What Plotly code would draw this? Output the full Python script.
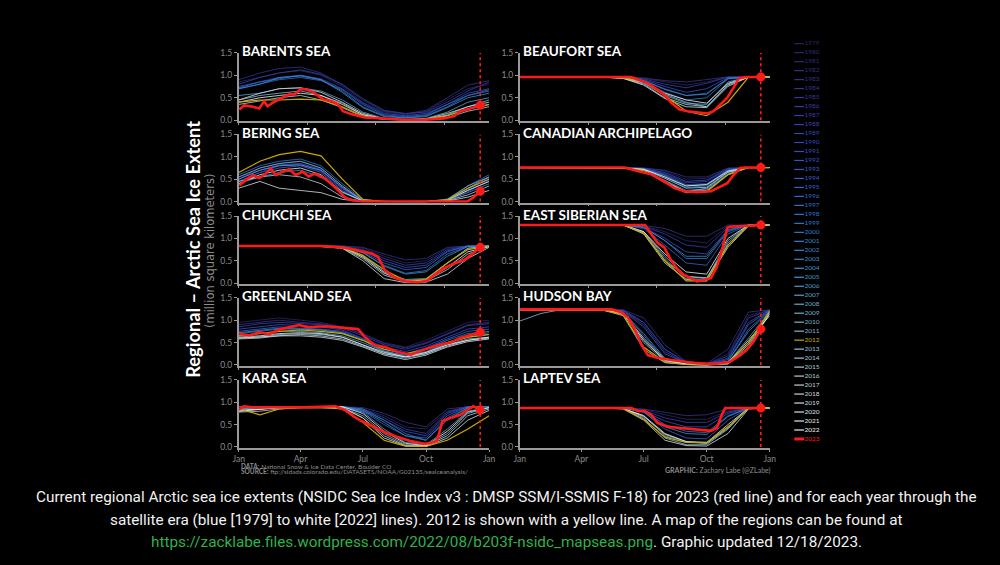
import plotly.graph_objects as go

# day-of-year for the monthly readings of each past year
MONTH_DAY = [0, 31, 59, 90, 120, 151, 181, 212, 243, 273, 304, 334, 365]
YEARS = list(range(1979, 2024))

# million km^2 (a subset of years per region)
BARENTS = {
    1979: [0.85, 0.95, 1.05, 1.10, 1.00, 0.75, 0.40, 0.18, 0.12, 0.20, 0.45, 0.70, 0.80],
    1983: [0.90, 1.05, 1.15, 1.18, 1.05, 0.78, 0.45, 0.20, 0.14, 0.22, 0.50, 0.78, 0.88],
    1987: [0.80, 0.95, 1.05, 1.12, 1.02, 0.80, 0.48, 0.22, 0.15, 0.18, 0.40, 0.65, 0.85],
    1991: [0.75, 0.85, 0.95, 1.00, 0.92, 0.70, 0.38, 0.15, 0.10, 0.15, 0.35, 0.60, 0.70],
    1995: [0.70, 0.80, 0.90, 0.95, 0.88, 0.68, 0.35, 0.12, 0.08, 0.12, 0.35, 0.55, 0.68],
    1999: [0.72, 0.85, 0.92, 1.00, 0.90, 0.65, 0.30, 0.10, 0.06, 0.10, 0.30, 0.55, 0.65],
    2003: [0.70, 0.80, 0.95, 0.98, 0.90, 0.62, 0.28, 0.08, 0.05, 0.08, 0.28, 0.50, 0.60],
    2007: [0.55, 0.60, 0.70, 0.72, 0.65, 0.45, 0.18, 0.04, 0.02, 0.04, 0.18, 0.40, 0.50],
    2011: [0.45, 0.55, 0.60, 0.65, 0.55, 0.38, 0.12, 0.03, 0.01, 0.02, 0.12, 0.30, 0.45],
    2016: [0.35, 0.42, 0.50, 0.55, 0.45, 0.28, 0.08, 0.02, 0.01, 0.02, 0.06, 0.20, 0.30],
    2019: [0.45, 0.60, 0.70, 0.72, 0.62, 0.40, 0.15, 0.03, 0.01, 0.03, 0.15, 0.30, 0.40],
    2022: [0.40, 0.50, 0.55, 0.60, 0.55, 0.35, 0.12, 0.03, 0.01, 0.02, 0.10, 0.25, 0.35],
    2012: [0.40, 0.45, 0.45, 0.47, 0.45, 0.30, 0.10, 0.02, 0.01, 0.02, 0.10, 0.25, 0.35],
}
BERING = {
    1979: [0.55, 0.70, 0.80, 0.85, 0.70, 0.30, 0.02, 0, 0, 0, 0.03, 0.25, 0.50],
    1983: [0.50, 0.75, 0.85, 0.90, 0.75, 0.35, 0.03, 0, 0, 0, 0.05, 0.30, 0.55],
    1987: [0.45, 0.65, 0.80, 0.82, 0.68, 0.28, 0.02, 0, 0, 0, 0.04, 0.22, 0.48],
    1991: [0.50, 0.70, 0.82, 0.85, 0.72, 0.30, 0.02, 0, 0, 0, 0.05, 0.28, 0.52],
    1995: [0.45, 0.65, 0.75, 0.80, 0.65, 0.25, 0.01, 0, 0, 0, 0.03, 0.25, 0.45],
    1999: [0.60, 0.80, 0.90, 0.95, 0.80, 0.40, 0.04, 0, 0, 0, 0.06, 0.35, 0.60],
    2003: [0.40, 0.55, 0.65, 0.70, 0.55, 0.20, 0.01, 0, 0, 0, 0.02, 0.20, 0.40],
    2007: [0.50, 0.70, 0.80, 0.82, 0.70, 0.32, 0.02, 0, 0, 0, 0.03, 0.30, 0.55],
    2011: [0.55, 0.75, 0.85, 0.90, 0.75, 0.35, 0.02, 0, 0, 0, 0.04, 0.35, 0.55],
    2016: [0.45, 0.55, 0.60, 0.55, 0.40, 0.10, 0.00, 0, 0, 0, 0.02, 0.15, 0.35],
    2019: [0.30, 0.45, 0.30, 0.25, 0.20, 0.05, 0.00, 0, 0, 0, 0.01, 0.10, 0.25],
    2022: [0.40, 0.60, 0.70, 0.75, 0.60, 0.22, 0.01, 0, 0, 0, 0.03, 0.25, 0.45],
    2012: [0.65, 0.90, 1.05, 1.12, 1.02, 0.50, 0.05, 0, 0, 0, 0.04, 0.30, 0.50],
}
CHUKCHI = {
    1979: [0.83, 0.83, 0.83, 0.83, 0.83, 0.83, 0.78, 0.60, 0.45, 0.50, 0.78, 0.83, 0.83],
    1983: [0.83, 0.83, 0.83, 0.83, 0.83, 0.83, 0.80, 0.65, 0.52, 0.55, 0.80, 0.83, 0.83],
    1987: [0.83, 0.83, 0.83, 0.83, 0.83, 0.82, 0.75, 0.55, 0.40, 0.45, 0.75, 0.83, 0.83],
    1991: [0.83, 0.83, 0.83, 0.83, 0.83, 0.82, 0.72, 0.50, 0.35, 0.40, 0.72, 0.83, 0.83],
    1995: [0.83, 0.83, 0.83, 0.83, 0.83, 0.82, 0.70, 0.45, 0.30, 0.35, 0.70, 0.83, 0.83],
    1999: [0.83, 0.83, 0.83, 0.83, 0.83, 0.81, 0.68, 0.40, 0.22, 0.28, 0.65, 0.82, 0.83],
    2003: [0.83, 0.83, 0.83, 0.83, 0.83, 0.81, 0.68, 0.38, 0.20, 0.25, 0.60, 0.82, 0.83],
    2007: [0.83, 0.83, 0.83, 0.83, 0.83, 0.80, 0.62, 0.25, 0.05, 0.08, 0.45, 0.78, 0.83],
    2011: [0.83, 0.83, 0.83, 0.83, 0.83, 0.80, 0.60, 0.25, 0.08, 0.10, 0.45, 0.78, 0.83],
    2016: [0.83, 0.83, 0.83, 0.83, 0.82, 0.78, 0.55, 0.18, 0.03, 0.05, 0.30, 0.65, 0.82],
    2019: [0.83, 0.83, 0.83, 0.83, 0.82, 0.78, 0.50, 0.10, 0.01, 0.02, 0.20, 0.55, 0.80],
    2022: [0.83, 0.83, 0.83, 0.83, 0.83, 0.80, 0.58, 0.22, 0.05, 0.06, 0.35, 0.70, 0.82],
    2012: [0.83, 0.83, 0.83, 0.83, 0.83, 0.80, 0.62, 0.30, 0.05, 0.08, 0.45, 0.75, 0.83],
}
GREENLAND = {
    1979: [0.95, 1.00, 1.05, 1.00, 0.95, 0.85, 0.70, 0.50, 0.40, 0.55, 0.75, 0.95, 1.00],
    1983: [0.90, 0.95, 1.00, 0.95, 0.92, 0.85, 0.68, 0.48, 0.38, 0.50, 0.70, 0.90, 0.95],
    1987: [0.85, 0.92, 0.95, 0.92, 0.90, 0.82, 0.65, 0.45, 0.35, 0.48, 0.68, 0.88, 0.92],
    1991: [0.80, 0.85, 0.90, 0.88, 0.85, 0.78, 0.60, 0.40, 0.30, 0.42, 0.62, 0.80, 0.85],
    1995: [0.75, 0.80, 0.85, 0.82, 0.80, 0.75, 0.58, 0.35, 0.25, 0.38, 0.58, 0.75, 0.80],
    1999: [0.70, 0.75, 0.80, 0.80, 0.78, 0.72, 0.55, 0.30, 0.22, 0.35, 0.55, 0.70, 0.75],
    2003: [0.72, 0.78, 0.82, 0.80, 0.78, 0.72, 0.55, 0.32, 0.20, 0.30, 0.50, 0.65, 0.72],
    2007: [0.65, 0.70, 0.75, 0.75, 0.72, 0.65, 0.50, 0.30, 0.18, 0.28, 0.48, 0.62, 0.68],
    2011: [0.60, 0.62, 0.68, 0.70, 0.68, 0.62, 0.45, 0.25, 0.15, 0.25, 0.45, 0.58, 0.62],
    2016: [0.58, 0.60, 0.65, 0.68, 0.65, 0.58, 0.42, 0.25, 0.18, 0.25, 0.42, 0.55, 0.60],
    2019: [0.60, 0.62, 0.65, 0.65, 0.62, 0.55, 0.40, 0.22, 0.12, 0.22, 0.40, 0.52, 0.58],
    2022: [0.62, 0.65, 0.70, 0.72, 0.70, 0.62, 0.45, 0.28, 0.18, 0.28, 0.45, 0.55, 0.62],
    2012: [0.65, 0.70, 0.75, 0.78, 0.75, 0.70, 0.55, 0.35, 0.25, 0.35, 0.50, 0.62, 0.68],
}
KARA = {
    1979: [0.90, 0.90, 0.90, 0.90, 0.90, 0.90, 0.85, 0.70, 0.45, 0.40, 0.80, 0.90, 0.90],
    1983: [0.88, 0.90, 0.90, 0.90, 0.90, 0.90, 0.88, 0.75, 0.55, 0.45, 0.85, 0.90, 0.90],
    1987: [0.85, 0.88, 0.90, 0.90, 0.90, 0.90, 0.85, 0.65, 0.40, 0.30, 0.78, 0.90, 0.90],
    1991: [0.90, 0.90, 0.90, 0.90, 0.90, 0.90, 0.82, 0.60, 0.35, 0.25, 0.75, 0.90, 0.90],
    1995: [0.82, 0.85, 0.90, 0.90, 0.90, 0.90, 0.80, 0.50, 0.25, 0.20, 0.70, 0.90, 0.90],
    1999: [0.90, 0.90, 0.90, 0.90, 0.90, 0.90, 0.85, 0.60, 0.30, 0.15, 0.65, 0.88, 0.90],
    2003: [0.85, 0.88, 0.88, 0.90, 0.90, 0.90, 0.82, 0.55, 0.25, 0.15, 0.60, 0.88, 0.90],
    2007: [0.85, 0.85, 0.88, 0.88, 0.90, 0.90, 0.78, 0.40, 0.10, 0.05, 0.40, 0.80, 0.88],
    2011: [0.80, 0.85, 0.88, 0.90, 0.90, 0.88, 0.70, 0.30, 0.05, 0.02, 0.30, 0.75, 0.88],
    2016: [0.78, 0.80, 0.85, 0.88, 0.88, 0.88, 0.65, 0.25, 0.03, 0.02, 0.25, 0.70, 0.85],
    2019: [0.82, 0.85, 0.88, 0.88, 0.88, 0.88, 0.65, 0.20, 0.02, 0.01, 0.20, 0.60, 0.82],
    2022: [0.80, 0.85, 0.88, 0.90, 0.90, 0.90, 0.75, 0.35, 0.08, 0.03, 0.35, 0.78, 0.88],
    2012: [0.85, 0.72, 0.85, 0.88, 0.88, 0.85, 0.55, 0.15, 0.02, 0.01, 0.15, 0.40, 0.70],
}
BEAUFORT = {
    1979: [0.96, 0.96, 0.96, 0.96, 0.96, 0.96, 0.93, 0.85, 0.78, 0.85, 0.96, 0.96, 0.96],
    1983: [0.96, 0.96, 0.96, 0.96, 0.96, 0.96, 0.94, 0.88, 0.85, 0.90, 0.96, 0.96, 0.96],
    1987: [0.96, 0.96, 0.96, 0.96, 0.96, 0.96, 0.92, 0.80, 0.72, 0.82, 0.96, 0.96, 0.96],
    1991: [0.96, 0.96, 0.96, 0.96, 0.96, 0.95, 0.90, 0.75, 0.62, 0.70, 0.95, 0.96, 0.96],
    1995: [0.96, 0.96, 0.96, 0.96, 0.96, 0.95, 0.88, 0.70, 0.55, 0.60, 0.93, 0.96, 0.96],
    1999: [0.96, 0.96, 0.96, 0.96, 0.96, 0.94, 0.85, 0.62, 0.45, 0.50, 0.92, 0.96, 0.96],
    2003: [0.96, 0.96, 0.96, 0.96, 0.96, 0.95, 0.88, 0.68, 0.55, 0.58, 0.93, 0.96, 0.96],
    2007: [0.96, 0.96, 0.96, 0.96, 0.96, 0.94, 0.82, 0.55, 0.38, 0.35, 0.85, 0.96, 0.96],
    2011: [0.96, 0.96, 0.96, 0.96, 0.96, 0.94, 0.85, 0.58, 0.40, 0.30, 0.80, 0.96, 0.96],
    2016: [0.96, 0.96, 0.96, 0.96, 0.96, 0.93, 0.80, 0.50, 0.35, 0.30, 0.78, 0.96, 0.96],
    2019: [0.96, 0.96, 0.96, 0.96, 0.96, 0.93, 0.78, 0.48, 0.30, 0.28, 0.75, 0.96, 0.96],
    2022: [0.96, 0.96, 0.96, 0.96, 0.96, 0.94, 0.84, 0.60, 0.45, 0.38, 0.82, 0.96, 0.96],
    2012: [0.96, 0.96, 0.96, 0.96, 0.96, 0.94, 0.85, 0.55, 0.20, 0.10, 0.40, 0.96, 0.96],
}
CANADIAN = {
    1979: [0.76, 0.76, 0.76, 0.76, 0.76, 0.76, 0.75, 0.68, 0.50, 0.52, 0.74, 0.76, 0.76],
    1983: [0.76, 0.76, 0.76, 0.76, 0.76, 0.76, 0.75, 0.70, 0.55, 0.55, 0.75, 0.76, 0.76],
    1987: [0.76, 0.76, 0.76, 0.76, 0.76, 0.76, 0.74, 0.62, 0.42, 0.45, 0.72, 0.76, 0.76],
    1991: [0.76, 0.76, 0.76, 0.76, 0.76, 0.76, 0.74, 0.65, 0.45, 0.48, 0.73, 0.76, 0.76],
    1995: [0.76, 0.76, 0.76, 0.76, 0.76, 0.75, 0.73, 0.60, 0.38, 0.40, 0.70, 0.76, 0.76],
    1999: [0.76, 0.76, 0.76, 0.76, 0.76, 0.75, 0.72, 0.55, 0.32, 0.35, 0.68, 0.76, 0.76],
    2003: [0.76, 0.76, 0.76, 0.76, 0.76, 0.76, 0.73, 0.58, 0.35, 0.38, 0.70, 0.76, 0.76],
    2007: [0.76, 0.76, 0.76, 0.76, 0.76, 0.75, 0.70, 0.48, 0.25, 0.28, 0.62, 0.76, 0.76],
    2011: [0.76, 0.76, 0.76, 0.76, 0.76, 0.75, 0.70, 0.45, 0.22, 0.30, 0.65, 0.76, 0.76],
    2016: [0.76, 0.76, 0.76, 0.76, 0.76, 0.75, 0.72, 0.52, 0.30, 0.32, 0.66, 0.76, 0.76],
    2019: [0.76, 0.76, 0.76, 0.76, 0.76, 0.74, 0.70, 0.45, 0.22, 0.25, 0.60, 0.76, 0.76],
    2022: [0.76, 0.76, 0.76, 0.76, 0.76, 0.75, 0.72, 0.55, 0.35, 0.38, 0.68, 0.76, 0.76],
    2012: [0.76, 0.76, 0.76, 0.76, 0.76, 0.75, 0.70, 0.42, 0.20, 0.22, 0.60, 0.76, 0.76],
}
EAST_SIBERIAN = {
    1979: [1.30, 1.30, 1.30, 1.30, 1.30, 1.30, 1.28, 1.15, 0.95, 0.90, 1.28, 1.30, 1.30],
    1983: [1.30, 1.30, 1.30, 1.30, 1.30, 1.30, 1.29, 1.22, 1.05, 1.05, 1.30, 1.30, 1.30],
    1987: [1.30, 1.30, 1.30, 1.30, 1.30, 1.30, 1.27, 1.10, 0.85, 0.80, 1.25, 1.30, 1.30],
    1991: [1.30, 1.30, 1.30, 1.30, 1.30, 1.30, 1.25, 1.00, 0.70, 0.65, 1.20, 1.30, 1.30],
    1995: [1.30, 1.30, 1.30, 1.30, 1.30, 1.30, 1.22, 0.85, 0.45, 0.40, 1.10, 1.30, 1.30],
    1999: [1.30, 1.30, 1.30, 1.30, 1.30, 1.30, 1.25, 0.95, 0.55, 0.55, 1.15, 1.30, 1.30],
    2003: [1.30, 1.30, 1.30, 1.30, 1.30, 1.30, 1.25, 0.95, 0.60, 0.60, 1.18, 1.30, 1.30],
    2007: [1.30, 1.30, 1.30, 1.30, 1.30, 1.30, 1.15, 0.55, 0.10, 0.08, 0.90, 1.30, 1.30],
    2011: [1.30, 1.30, 1.30, 1.30, 1.30, 1.30, 1.15, 0.60, 0.15, 0.10, 0.95, 1.30, 1.30],
    2016: [1.30, 1.30, 1.30, 1.30, 1.30, 1.30, 1.12, 0.50, 0.15, 0.12, 0.85, 1.28, 1.30],
    2019: [1.30, 1.30, 1.30, 1.30, 1.30, 1.30, 1.10, 0.45, 0.08, 0.05, 0.80, 1.28, 1.30],
    2022: [1.30, 1.30, 1.30, 1.30, 1.30, 1.30, 1.15, 0.65, 0.25, 0.20, 1.00, 1.30, 1.30],
    2012: [1.30, 1.30, 1.30, 1.30, 1.30, 1.30, 1.12, 0.50, 0.05, 0.05, 0.85, 1.30, 1.30],
}
HUDSON = {
    1979: [1.23, 1.23, 1.23, 1.23, 1.23, 1.22, 0.95, 0.35, 0.05, 0.02, 0.25, 1.10, 1.23],
    1983: [1.23, 1.23, 1.23, 1.23, 1.23, 1.23, 1.05, 0.45, 0.08, 0.03, 0.35, 1.18, 1.23],
    1987: [1.23, 1.23, 1.23, 1.23, 1.23, 1.22, 0.90, 0.30, 0.04, 0.02, 0.20, 1.05, 1.23],
    1991: [1.23, 1.23, 1.23, 1.23, 1.23, 1.22, 0.95, 0.35, 0.06, 0.02, 0.15, 0.95, 1.23],
    1995: [1.23, 1.23, 1.23, 1.23, 1.23, 1.20, 0.85, 0.25, 0.04, 0.01, 0.12, 0.90, 1.22],
    1999: [1.23, 1.23, 1.23, 1.23, 1.23, 1.18, 0.65, 0.12, 0.02, 0.01, 0.08, 0.80, 1.22],
    2003: [1.23, 1.23, 1.23, 1.23, 1.23, 1.18, 0.70, 0.15, 0.02, 0.01, 0.08, 0.75, 1.20],
    2007: [1.23, 1.23, 1.23, 1.23, 1.23, 1.15, 0.55, 0.10, 0.01, 0.00, 0.05, 0.60, 1.20],
    2011: [0.98, 1.15, 1.23, 1.23, 1.23, 1.15, 0.50, 0.08, 0.01, 0.00, 0.04, 0.50, 1.18],
    2016: [1.23, 1.23, 1.23, 1.23, 1.23, 1.10, 0.35, 0.05, 0.01, 0.00, 0.02, 0.40, 1.15],
    2019: [1.23, 1.23, 1.23, 1.23, 1.23, 1.15, 0.55, 0.10, 0.01, 0.00, 0.03, 0.45, 1.15],
    2022: [1.23, 1.23, 1.23, 1.23, 1.23, 1.15, 0.60, 0.12, 0.02, 0.01, 0.05, 0.55, 1.10],
    2012: [1.23, 1.23, 1.23, 1.23, 1.23, 1.12, 0.40, 0.06, 0.01, 0.00, 0.04, 0.50, 1.20],
}
LAPTEV = {
    1979: [0.87, 0.87, 0.87, 0.87, 0.87, 0.87, 0.84, 0.72, 0.62, 0.62, 0.80, 0.87, 0.87],
    1983: [0.87, 0.87, 0.87, 0.87, 0.87, 0.87, 0.85, 0.78, 0.70, 0.72, 0.85, 0.87, 0.87],
    1987: [0.87, 0.87, 0.87, 0.87, 0.87, 0.87, 0.82, 0.65, 0.55, 0.55, 0.78, 0.87, 0.87],
    1991: [0.87, 0.87, 0.87, 0.87, 0.87, 0.87, 0.80, 0.58, 0.45, 0.45, 0.75, 0.87, 0.87],
    1995: [0.87, 0.87, 0.87, 0.87, 0.87, 0.87, 0.78, 0.40, 0.20, 0.18, 0.60, 0.87, 0.87],
    1999: [0.87, 0.87, 0.87, 0.87, 0.87, 0.87, 0.80, 0.50, 0.35, 0.32, 0.70, 0.87, 0.87],
    2003: [0.87, 0.87, 0.87, 0.87, 0.87, 0.87, 0.78, 0.45, 0.30, 0.28, 0.68, 0.87, 0.87],
    2007: [0.87, 0.87, 0.87, 0.87, 0.87, 0.86, 0.70, 0.25, 0.10, 0.08, 0.45, 0.87, 0.87],
    2011: [0.87, 0.87, 0.87, 0.87, 0.87, 0.86, 0.65, 0.20, 0.05, 0.05, 0.40, 0.87, 0.87],
    2016: [0.87, 0.87, 0.87, 0.87, 0.87, 0.86, 0.68, 0.28, 0.12, 0.08, 0.42, 0.87, 0.87],
    2019: [0.87, 0.87, 0.87, 0.87, 0.87, 0.85, 0.60, 0.15, 0.03, 0.02, 0.30, 0.85, 0.87],
    2022: [0.87, 0.87, 0.87, 0.87, 0.87, 0.86, 0.70, 0.30, 0.12, 0.10, 0.50, 0.87, 0.87],
    2012: [0.87, 0.87, 0.87, 0.87, 0.87, 0.86, 0.62, 0.22, 0.10, 0.10, 0.45, 0.87, 0.87],
}

# 2023 (through Dec 18) read at finer spacing
RED_BARENTS_DAY = [1, 8, 21, 30, 37, 42, 50, 59, 69, 74, 81, 90, 97, 107, 117, 124, 136, 145, 152, 165,
                   184, 203, 222, 242, 270, 299, 314, 323, 333, 342, 352]
RED_BARENTS = [0.24, 0.33, 0.30, 0.26, 0.42, 0.31, 0.39, 0.46, 0.53, 0.58, 0.57, 0.69, 0.69, 0.64, 0.53,
               0.46, 0.42, 0.35, 0.20, 0.13, 0.06, 0.04, 0.02, 0.01, 0.01, 0.04, 0.09, 0.20, 0.24, 0.28, 0.33]
RED_BERING_DAY = [1, 11, 21, 30, 40, 47, 54, 64, 74, 83, 93, 102, 112, 119, 126, 136, 145, 155, 165, 180,
                  300, 333, 342, 352]
RED_BERING = [0.36, 0.49, 0.59, 0.52, 0.63, 0.74, 0.59, 0.67, 0.72, 0.59, 0.67, 0.56, 0.63, 0.56, 0.52,
              0.38, 0.25, 0.09, 0.03, 0.0, 0.0, 0.0, 0.09, 0.23]
RED_CHUKCHI_DAY = [0, 117, 140, 155, 174, 194, 203, 213, 227, 242, 261, 275, 285, 299, 314, 328, 338, 352]
RED_CHUKCHI = [0.83, 0.83, 0.81, 0.79, 0.73, 0.66, 0.59, 0.29, 0.13, 0.04, 0.02, 0.05, 0.18, 0.33, 0.44,
               0.51, 0.62, 0.80]
RED_GREENLAND_DAY = [1, 16, 30, 45, 59, 73, 88, 102, 117, 131, 146, 160, 174, 184, 198, 213, 232, 251, 261,
                     275, 290, 309, 323, 338, 352]
RED_GREENLAND = [0.69, 0.66, 0.73, 0.69, 0.79, 0.84, 0.89, 0.84, 0.86, 0.86, 0.84, 0.82, 0.80, 0.62, 0.44,
                 0.40, 0.29, 0.23, 0.29, 0.37, 0.44, 0.50, 0.60, 0.66, 0.73]
RED_KARA_DAY = [0, 7, 25, 49, 97, 141, 155, 167, 179, 194, 213, 232, 251, 270, 280, 289, 297, 309, 323, 333,
                342, 352]
RED_KARA = [0.83, 0.91, 0.88, 0.89, 0.89, 0.91, 0.83, 0.69, 0.58, 0.47, 0.33, 0.22, 0.13, 0.07, 0.09, 0.14,
            0.58, 0.65, 0.72, 0.83, 0.91, 0.83]
RED_BEAUFORT_DAY = [0, 163, 173, 187, 201, 211, 221, 233, 245, 259, 274, 283, 293, 303, 312, 320, 330, 352]
RED_BEAUFORT = [0.96, 0.96, 0.90, 0.82, 0.68, 0.57, 0.39, 0.24, 0.20, 0.17, 0.15, 0.20, 0.35, 0.50, 0.72,
                0.93, 0.96, 0.96]
RED_CANADIAN_DAY = [0, 154, 173, 192, 211, 226, 240, 259, 279, 288, 303, 312, 322, 330, 352]
RED_CANADIAN = [0.76, 0.76, 0.68, 0.61, 0.45, 0.30, 0.23, 0.21, 0.23, 0.30, 0.41, 0.59, 0.75, 0.76, 0.76]
RED_EAST_SIBERIAN_DAY = [0, 183, 192, 201, 211, 221, 231, 240, 250, 259, 269, 279, 288, 295, 303, 307, 352]
RED_EAST_SIBERIAN = [1.30, 1.30, 1.10, 0.91, 0.80, 0.51, 0.29, 0.18, 0.11, 0.04, 0.07, 0.11, 0.37, 0.73,
                     1.24, 1.26, 1.30]
RED_HUDSON_DAY = [0, 134, 149, 158, 168, 178, 187, 201, 221, 240, 259, 283, 307, 322, 331, 341, 352]
RED_HUDSON = [1.24, 1.24, 1.17, 1.06, 0.80, 0.44, 0.22, 0.16, 0.11, 0.07, 0.04, 0.02, 0.07, 0.22, 0.33,
              0.51, 0.80]
RED_LAPTEV_DAY = [0, 163, 173, 182, 192, 201, 216, 240, 259, 279, 288, 295, 300, 352]
RED_LAPTEV = [0.87, 0.87, 0.80, 0.81, 0.72, 0.54, 0.45, 0.42, 0.40, 0.36, 0.43, 0.72, 0.87, 0.87]

UPDATE_DAY = 352  # Dec 18

PANELS = [
    ("BARENTS SEA", BARENTS, RED_BARENTS_DAY, RED_BARENTS, 0, 0),
    ("BERING SEA", BERING, RED_BERING_DAY, RED_BERING, 0, 1),
    ("CHUKCHI SEA", CHUKCHI, RED_CHUKCHI_DAY, RED_CHUKCHI, 0, 2),
    ("GREENLAND SEA", GREENLAND, RED_GREENLAND_DAY, RED_GREENLAND, 0, 3),
    ("KARA SEA", KARA, RED_KARA_DAY, RED_KARA, 0, 4),
    ("BEAUFORT SEA", BEAUFORT, RED_BEAUFORT_DAY, RED_BEAUFORT, 1, 0),
    ("CANADIAN ARCHIPELAGO", CANADIAN, RED_CANADIAN_DAY, RED_CANADIAN, 1, 1),
    ("EAST SIBERIAN SEA", EAST_SIBERIAN, RED_EAST_SIBERIAN_DAY, RED_EAST_SIBERIAN, 1, 2),
    ("HUDSON BAY", HUDSON, RED_HUDSON_DAY, RED_HUDSON, 1, 3),
    ("LAPTEV SEA", LAPTEV, RED_LAPTEV_DAY, RED_LAPTEV, 1, 4),
]

W, H = 1000, 565
COL_X = [[0.2355, 0.489], [0.520, 0.773]]
ROW_PX = [(48.5, 118), (131.5, 200.7), (214.5, 283.5), (297.5, 366.7), (381, 450)]
AX = "#9a9a9a"
TICKFONT = dict(family="Lato", size=8.5, color="#8c8c8c")
RED = "#ff1a1a"
YELLOW = "#c9a800"

# blue (1979) -> white (2022)
STOPS = [(1979, (42, 40, 98)), (1985, (55, 56, 155)), (1990, (60, 70, 195)), (1995, (50, 100, 205)),
         (2000, (45, 125, 205)), (2005, (70, 150, 205)), (2009, (110, 175, 208)),
         (2014, (160, 200, 215)), (2018, (200, 215, 222)), (2022, (238, 242, 244))]


def year_color(year):
    if year == 2012:
        return YELLOW
    if year == 2023:
        return RED
    for (y0, c0), (y1, c1) in zip(STOPS[:-1], STOPS[1:]):
        if y0 <= year <= y1:
            t = (year - y0) / (y1 - y0)
            r, g, b = (round(a + (b_ - a) * t) for a, b_ in zip(c0, c1))
            return f"rgb({r},{g},{b})"
    return "rgb(238,242,244)"


fig = go.Figure()
axes = {}
annotations = []

for i, (title, hist, rdays, rvals, col, row) in enumerate(PANELS, start=1):
    sfx = "" if i == 1 else str(i)
    xa, ya = "x" + sfx, "y" + sfx
    top, bot = ROW_PX[row]
    last = row == 4
    axes["xaxis" + sfx] = dict(
        domain=COL_X[col], range=[0, 365], anchor=ya, showline=True, linecolor=AX, linewidth=1.5,
        ticks="outside", ticklen=2, tickcolor=AX, tickwidth=1.2, showgrid=False, zeroline=False,
        tickvals=[0, 90, 181, 273, 365] if last else [0, 100, 200, 300],
        ticktext=["Jan", "Apr", "Jul", "Oct", "Jan"] if last else ["", "", "", ""],
        showticklabels=last, tickfont=dict(family="Lato", size=8.5, color="#8c8c8c"), fixedrange=True)
    axes["yaxis" + sfx] = dict(
        domain=[1 - bot / H, 1 - top / H], range=[-0.02, 1.5], anchor=xa, showline=True, linecolor=AX,
        linewidth=1.5, ticks="outside", ticklen=3, tickcolor=AX, tickwidth=1.2, showgrid=False,
        zeroline=False, tickvals=[0, 0.5, 1.0, 1.5], ticktext=["0.0", "0.5", "1.0", "1.5"],
        tickfont=TICKFONT, fixedrange=True)

    for yr in sorted(hist):
        if yr == 2012:
            continue
        fig.add_trace(go.Scatter(x=MONTH_DAY, y=hist[yr], mode="lines", xaxis=xa, yaxis=ya,
                                 line=dict(color=year_color(yr), width=0.9), opacity=0.9,
                                 showlegend=False, hoverinfo="skip"))
    fig.add_trace(go.Scatter(x=MONTH_DAY, y=hist[2012], mode="lines", xaxis=xa, yaxis=ya,
                             line=dict(color=YELLOW, width=1.2), showlegend=False, hoverinfo="skip"))
    fig.add_trace(go.Scatter(x=[UPDATE_DAY, UPDATE_DAY], y=[0, 1.5], mode="lines", xaxis=xa, yaxis=ya,
                             line=dict(color=RED, width=1.6, dash="dot"), showlegend=False,
                             hoverinfo="skip"))
    fig.add_trace(go.Scatter(x=rdays, y=rvals, mode="lines", xaxis=xa, yaxis=ya,
                             line=dict(color=RED, width=2.6), showlegend=False))
    fig.add_trace(go.Scatter(x=[rdays[-1]], y=[rvals[-1]], mode="markers", xaxis=xa, yaxis=ya,
                             marker=dict(color=RED, size=9), showlegend=False, cliponaxis=False))

    annotations.append(dict(text=f"<b>{title}</b>", xref=xa + " domain", yref=ya + " domain",
                            x=0.004, y=1.0, yshift=1.5, xanchor="left", yanchor="middle",
                            showarrow=False, font=dict(family="Lato", size=13.5, color="white")))

# year key on the right
axes["xaxis11"] = dict(domain=[0.79, 0.87], range=[0, 1], visible=False, anchor="y11", fixedrange=True)
axes["yaxis11"] = dict(domain=[1 - 441 / H, 1 - 39.3 / H], range=[2023, 1979], visible=False,
                       anchor="x11", fixedrange=True)
key_colors = [year_color(y) for y in YEARS]
fig.add_trace(go.Scatter(
    x=[0.16] * len(YEARS), y=YEARS, mode="markers+text", xaxis="x11", yaxis="y11",
    text=[str(y) for y in YEARS], textposition="middle right",
    textfont=dict(family="Lato", size=6.5, color=key_colors),
    marker=dict(symbol="line-ew", size=7,
                line=dict(color=key_colors, width=[3 if y == 2023 else 1.2 for y in YEARS])),
    showlegend=False, cliponaxis=False, hoverinfo="skip"))

annotations += [
    dict(text="<b>Regional – Arctic Sea Ice Extent</b>", xref="paper", yref="paper", x=0.189, y=1 - 248 / H,
         textangle=-90, showarrow=False, xanchor="center", yanchor="middle",
         font=dict(family="Lato", size=18.3, color="white")),
    dict(text="(million square kilometers)", xref="paper", yref="paper", x=0.2065, y=1 - 250 / H,
         textangle=-90, showarrow=False, xanchor="center", yanchor="middle",
         font=dict(family="DejaVu Sans", size=11.5, color="#8c8c8c")),
    dict(text="<b>DATA:</b> National Snow & Ice Data Center, Boulder CO", xref="paper", yref="paper",
         x=0.236, y=1 - 468.5 / H, xanchor="left", yanchor="middle", showarrow=False,
         font=dict(family="Lato", size=6.5, color="#8c8c8c")),
    dict(text="<b>SOURCE:</b> ftp://sidads.colorado.edu/DATASETS/NOAA/G02135/seaiceanalysis/",
         xref="paper", yref="paper", x=0.236, y=1 - 474.5 / H, xanchor="left", yanchor="middle",
         showarrow=False, font=dict(family="Lato", size=6.5, color="#8c8c8c")),
    dict(text="<b>GRAPHIC:</b> Zachary Labe (@ZLabe)", xref="paper", yref="paper",
         x=0.776, y=1 - 473 / H, xanchor="right", yanchor="middle", showarrow=False,
         font=dict(family="Lato", size=7, color="#8c8c8c")),
]

CAPTION = [
    "Current regional Arctic sea ice extents (NSIDC Sea Ice Index v3 : DMSP SSM/I-SSMIS F-18) for 2023 "
    "(red line) and for each year through the",
    "satellite era (blue [1979] to white [2022] lines). 2012 is shown with a yellow line. "
    "A map of the regions can be found at",
    '<span style="color:#2fb24a">https://zacklabe.files.wordpress.com/2022/08/b203f-nsidc_mapseas.png</span>'
    ". Graphic updated 12/18/2023.",
]
for line, ypx in zip(CAPTION, [500, 523, 546]):
    annotations.append(dict(text=line, xref="paper", yref="paper", x=0.5065, y=1 - ypx / H,
                            xanchor="center", yanchor="middle", showarrow=False,
                            font=dict(family="Roboto", size=15.3, color="#f2f2f2")))

fig.update_layout(
    width=W, height=H, margin=dict(l=0, r=0, t=0, b=0),
    paper_bgcolor="black", plot_bgcolor="black",
    showlegend=False, annotations=annotations, **axes)

fig.write_html("out.html", config={"displayModeBar": False}, post_script=(
    "document.body.style.margin='0';document.body.style.background='black';"
    "document.documentElement.style.background='black';"))
